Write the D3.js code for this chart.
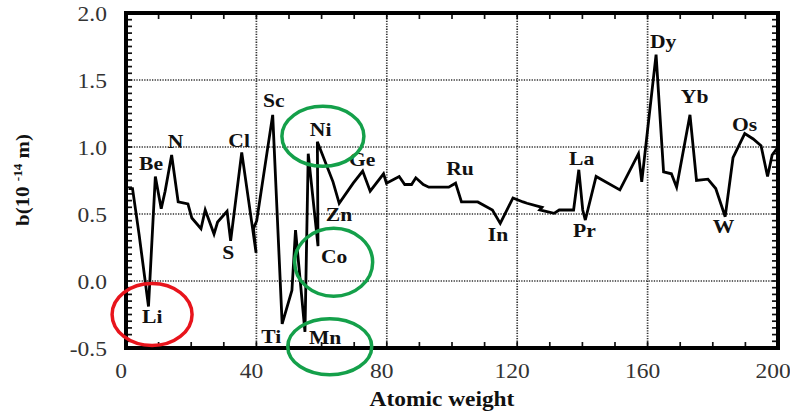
<!DOCTYPE html>
<html>
<head>
<meta charset="utf-8">
<script src="https://cdn.jsdelivr.net/npm/d3@7"></script>
<style>
  html, body { margin: 0; padding: 0; background: #ffffff; }
  svg { display: block; }
</style>
</head>
<body>
<svg id="chart" width="790" height="413"></svg>
<script>
// Neutron scattering length b (10^-14 m) against atomic weight, elements in order of Z
const atomicWeights = [0.8, 2.0, 4.0, 6.9, 9.0, 10.8, 12.0, 14.0, 16.0, 19.0, 20.2, 23.0, 24.3, 27.0, 28.1, 31.0, 32.1, 35.5,
  39.9, 39.1, 40.1, 45.0, 47.9, 50.9, 52.0, 54.9, 55.9, 58.9, 58.7, 63.5, 65.4, 69.7, 72.6, 74.9, 79.0, 79.9,
  83.8, 85.5, 87.6, 88.9, 91.2, 92.9, 96.0, 99.0, 101.1, 102.9, 106.4, 107.9, 112.4, 114.8, 118.7, 121.8, 123.0,
  127.6, 126.9, 131.3, 132.9, 137.3, 138.9, 140.1, 140.9, 144.2, 151.5, 157.2, 158.2, 162.6, 164.9, 167.3, 168.9,
  173.0, 175.0, 178.5, 180.9, 183.8, 186.2, 189.8, 192.4, 194.8, 196.8, 198.2, 200.0];
const scatteringLengths = [0.69, 0.69, 0.35, -0.19, 0.78, 0.54, 0.67, 0.94, 0.59, 0.575, 0.47, 0.39, 0.53, 0.35, 0.44, 0.52, 0.30, 0.96,
  0.21, 0.39, 0.45, 1.24, -0.32, -0.07, 0.38, -0.38, 0.95, 0.26, 1.04, 0.74, 0.58, 0.73, 0.82, 0.67, 0.80, 0.73,
  0.78, 0.72, 0.72, 0.77, 0.72, 0.70, 0.70, 0.70, 0.73, 0.59, 0.59, 0.59, 0.53, 0.43, 0.62, 0.59, 0.58,
  0.55, 0.53, 0.505, 0.53, 0.53, 0.83, 0.53, 0.455, 0.78, 0.68, 0.95, 0.74, 1.69, 0.815, 0.80, 0.70,
  1.24, 0.75, 0.76, 0.69, 0.48, 0.92, 1.10, 1.06, 1.01, 0.78, 0.94, 1.00];

// Element symbols written beside the curve, anchored in data units (atomic weight, b)
const labelNames = ["Be", "N", "Cl", "S", "Li", "Sc", "Ti", "Mn", "Ni", "Co", "Zn", "Ge", "Ru", "In", "La", "Pr", "Dy", "Yb", "Os", "W"];
const labelWeights = [4.0, 12.8, 31.4, 29.5, 4.9, 42.0, 41.5, 56.1, 56.4, 59.8, 61.3, 68.4, 98.2, 111.0, 135.9, 137.1, 160.7, 170.2, 185.9, 180.0];
const labelValues = [0.83, 0.99, 1.00, 0.165, -0.31, 1.30, -0.46, -0.47, 1.08, 0.135, 0.45, 0.86, 0.79, 0.30, 0.865, 0.33, 1.74, 1.33, 1.12, 0.36];

// Axis ticks
const xTickValues = [0, 40, 80, 120, 160, 200];
const xTickLabels = ["0", "40", "80", "120", "160", "200"];
const yTickValues = [2.0, 1.5, 1.0, 0.5, 0.0, -0.5];
const yTickLabels = ["2.0", "1.5", "1.0", "0.5", "0.0", "-0.5"];
const xGridValues = [40, 80, 120, 160];
const yGridValues = [1.5, 1.0, 0.5, 0.0];

// Highlight rings: [weight, b] of centre
const redRingCentres = [[8.0, -0.25]];
const greenRingCentres = [[60.4, 1.08], [63.7, 0.14], [62.5, -0.49]];
const greenRingRadii = [[41, 30], [39, 34], [42, 28]];

const svg = d3.select("#chart");
const plotLeft = 126, plotRight = 778, plotTop = 13, plotBottom = 348;

const x = d3.scaleLinear().domain([0, 200]).range([plotLeft, plotRight]);
const y = d3.scaleLinear().domain([-0.5, 2.0]).range([plotBottom, plotTop]);

const serif = "'Liberation Serif', 'Times New Roman', serif";

svg.append("defs").append("clipPath").attr("id", "plotClip")
  .append("rect").attr("x", plotLeft).attr("y", plotTop)
  .attr("width", plotRight - plotLeft).attr("height", plotBottom - plotTop);

// dotted grid
svg.append("g").selectAll("line").data(xGridValues).join("line")
  .attr("x1", d => x(d)).attr("x2", d => x(d)).attr("y1", plotTop).attr("y2", plotBottom)
  .attr("stroke", "#333").attr("stroke-width", 1.7).attr("stroke-dasharray", "1.3,1.3");
svg.append("g").selectAll("line").data(yGridValues).join("line")
  .attr("x1", plotLeft).attr("x2", plotRight).attr("y1", d => y(d)).attr("y2", d => y(d))
  .attr("stroke", "#333").attr("stroke-width", 1.7).attr("stroke-dasharray", "1.3,1.3");

// inward minor ticks on all four sides
const xMinor = d3.range(0, 201, 10);
const yMinor = d3.range(-0.5, 2.0001, 0.05);
const ticks = svg.append("g").attr("stroke", "#111").attr("stroke-width", 1.7);
ticks.selectAll(".tb").data(xMinor).join("line")
  .attr("x1", d => x(d)).attr("x2", d => x(d)).attr("y1", plotBottom).attr("y2", plotBottom - 6);
ticks.selectAll(".tt").data(xMinor).join("line")
  .attr("x1", d => x(d)).attr("x2", d => x(d)).attr("y1", plotTop).attr("y2", plotTop + 6);
ticks.selectAll(".tl").data(yMinor).join("line")
  .attr("x1", plotLeft).attr("x2", plotLeft + 6).attr("y1", d => y(d)).attr("y2", d => y(d));
ticks.selectAll(".tr").data(yMinor).join("line")
  .attr("x1", plotRight).attr("x2", plotRight - 6).attr("y1", d => y(d)).attr("y2", d => y(d));

// data curve
const points = atomicWeights.map((w, i) => [w, scatteringLengths[i]]);
svg.append("path")
  .datum(points)
  .attr("clip-path", "url(#plotClip)")
  .attr("fill", "none").attr("stroke", "#000").attr("stroke-width", 2.8)
  .attr("stroke-linejoin", "miter")
  .attr("d", d3.line().x(d => x(d[0])).y(d => y(d[1])));

// frame
svg.append("rect").attr("x", plotLeft).attr("y", plotTop)
  .attr("width", plotRight - plotLeft).attr("height", plotBottom - plotTop)
  .attr("fill", "none").attr("stroke", "#000").attr("stroke-width", 4);

// tick labels (the type is set slightly wide)
svg.append("g").selectAll("text").data(xTickValues).join("text")
  .attr("transform", d => `translate(${x(d) - 5},378) scale(1.12,1)`)
  .attr("text-anchor", "middle")
  .attr("font-family", serif).attr("font-size", 21).attr("fill", "#333")
  .text((d, i) => xTickLabels[i]);
svg.append("g").selectAll("text").data(yTickValues).join("text")
  .attr("transform", d => `translate(107,${y(d) + 8}) scale(1.12,1)`)
  .attr("text-anchor", "end")
  .attr("font-family", serif).attr("font-size", 21).attr("fill", "#333")
  .text((d, i) => yTickLabels[i]);

// axis titles
svg.append("text")
  .attr("transform", "translate(442,406) scale(1.17,1)")
  .attr("text-anchor", "middle")
  .attr("font-family", serif).attr("font-size", 20).attr("font-weight", "bold").attr("fill", "#111")
  .text("Atomic weight");
const yTitle = svg.append("text")
  .attr("transform", "translate(29,180) rotate(-90) scale(1.1,1)")
  .attr("text-anchor", "middle")
  .attr("font-family", serif).attr("font-size", 19).attr("font-weight", "bold").attr("fill", "#111");
yTitle.append("tspan").text("b(10 ");
yTitle.append("tspan").attr("font-size", 12).attr("dy", -7).text("-14");
yTitle.append("tspan").attr("dy", 7).text(" m)");

// element labels
svg.append("g").selectAll("text").data(labelNames).join("text")
  .attr("transform", (d, i) => `translate(${x(labelWeights[i])},${y(labelValues[i])}) scale(1.2,1)`)
  .attr("font-family", serif).attr("font-size", 18).attr("font-weight", "bold").attr("fill", "#111")
  .text(d => d);

// highlight rings
svg.append("g").selectAll("ellipse").data(redRingCentres).join("ellipse")
  .attr("cx", d => x(d[0])).attr("cy", d => y(d[1])).attr("rx", 40).attr("ry", 31)
  .attr("fill", "none").attr("stroke", "#e8141c").attr("stroke-width", 3.5);
svg.append("g").selectAll("ellipse").data(greenRingCentres).join("ellipse")
  .attr("cx", d => x(d[0])).attr("cy", d => y(d[1]))
  .attr("rx", (d, i) => greenRingRadii[i][0]).attr("ry", (d, i) => greenRingRadii[i][1])
  .attr("fill", "none").attr("stroke", "#14a04a").attr("stroke-width", 3.5);
</script>
</body>
</html>
